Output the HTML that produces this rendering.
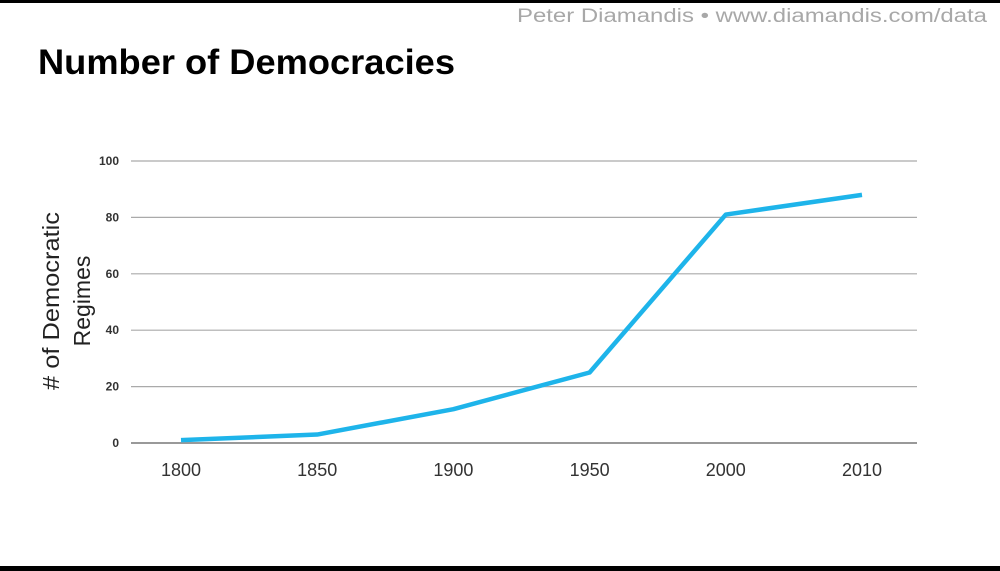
<!DOCTYPE html>
<html><head><meta charset="utf-8"><style>
html,body{margin:0;padding:0;background:#fff;}
svg{display:block;font-family:"Liberation Sans",sans-serif;}
</style></head><body>
<svg width="1000" height="571" viewBox="0 0 1000 571">
<rect x="0" y="0" width="1000" height="3" fill="#000"/>
<rect x="0" y="566" width="1000" height="5" fill="#000"/>
<text x="987" y="22" text-anchor="end" font-size="19" fill="#a8a8a8" textLength="470" lengthAdjust="spacingAndGlyphs">Peter Diamandis  •  www.diamandis.com/data</text>
<text x="38" y="74" font-size="35" font-weight="bold" fill="#000" textLength="417" lengthAdjust="spacingAndGlyphs">Number of Democracies</text>
<g transform="translate(59,301) rotate(-90)">
<text x="0" y="0" text-anchor="middle" font-size="23" fill="#222">
<tspan x="0" dy="0" textLength="178" lengthAdjust="spacingAndGlyphs"># of Democratic</tspan><tspan x="0" dy="31">Regimes</tspan></text>
</g>
<g id="grid"></g>
<g id="ylabels"></g>
<g id="xlabels"></g>
<g id="series"></g>
</svg>
<script>
const categories = ["1800","1850","1900","1950","2000","2010"];
const values = [1, 3, 12, 25, 81, 88];
const yTicks = [0, 20, 40, 60, 80, 100];
const NS = "http://www.w3.org/2000/svg";
const x0 = 181, xStep = 136.2, yBase = 443, yTop = 161, yMax = 100;
function xPos(i){ return x0 + i * xStep; }
function yPos(v){ return yBase - (v / yMax) * (yBase - yTop); }
const grid = document.getElementById('grid');
const yl = document.getElementById('ylabels');
yTicks.forEach(t => {
  const l = document.createElementNS(NS, 'line');
  l.setAttribute('x1', 131); l.setAttribute('x2', 917);
  l.setAttribute('y1', yPos(t)); l.setAttribute('y2', yPos(t));
  l.setAttribute('stroke', t === 0 ? '#999' : '#aaa');
  l.setAttribute('stroke-width', t === 0 ? 2 : 1.2);
  
  
  grid.appendChild(l);
  const tx = document.createElementNS(NS, 'text');
  tx.setAttribute('x', 119); tx.setAttribute('y', yPos(t) + 4);
  tx.setAttribute('text-anchor', 'end'); tx.setAttribute('font-size', 12);
  tx.setAttribute('font-weight', 'bold'); tx.setAttribute('fill', '#333');
  tx.textContent = t;
  
  
  yl.appendChild(tx);
});
const xl = document.getElementById('xlabels');
categories.forEach((c, i) => {
  const tx = document.createElementNS(NS, 'text');
  tx.setAttribute('x', xPos(i)); tx.setAttribute('y', 476);
  tx.setAttribute('text-anchor', 'middle'); tx.setAttribute('font-size', 18);
  tx.setAttribute('fill', '#333');
  tx.textContent = c;
  
  
  xl.appendChild(tx);
});
const p = document.createElementNS(NS, 'polyline');
p.setAttribute('points', values.map((v, i) => xPos(i) + ',' + yPos(v)).join(' '));
p.setAttribute('fill', 'none'); p.setAttribute('stroke', '#1eb4ea');
p.setAttribute('stroke-width', 4.5); p.setAttribute('stroke-linejoin', 'round');


document.getElementById('series').appendChild(p);
</script>
</body></html>
